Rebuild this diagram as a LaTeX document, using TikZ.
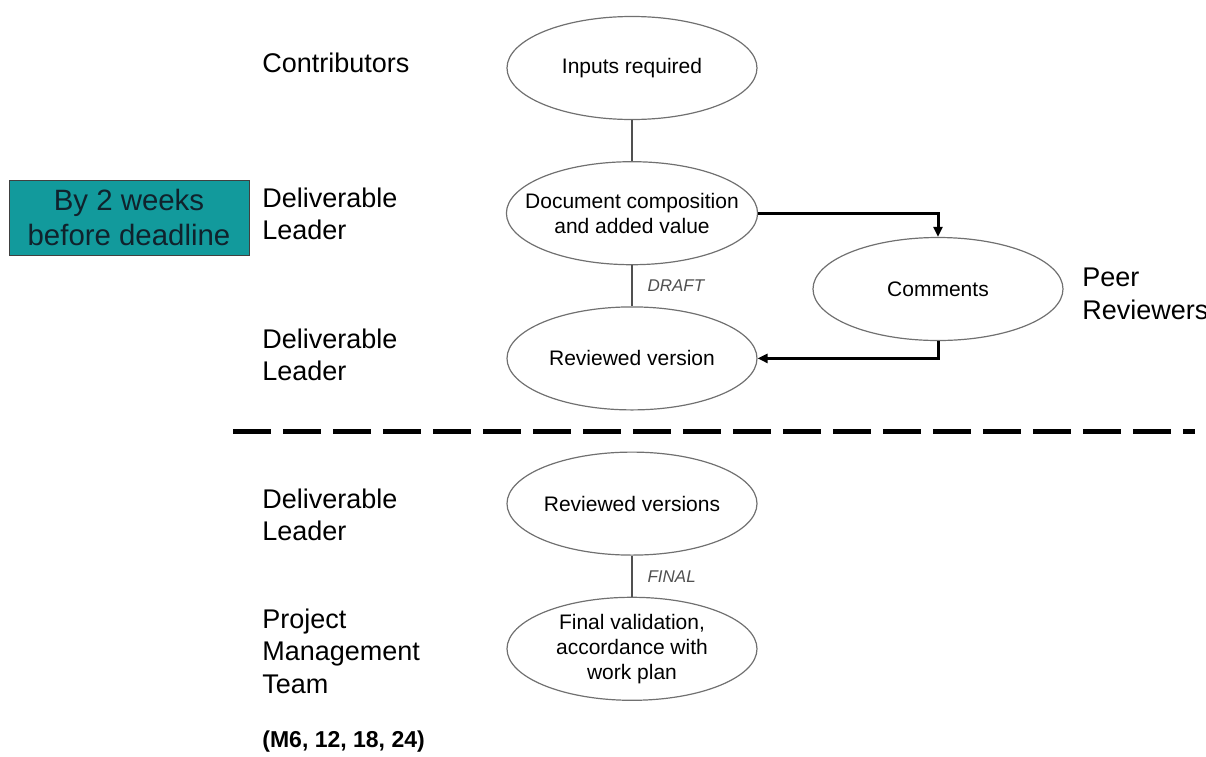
\documentclass[tikz,border=0pt]{standalone}
\usepackage{fontspec}
\setmainfont{Liberation Sans}
\usepackage{xcolor}
\usetikzlibrary{arrows.meta,positioning,shapes.geometric}
\definecolor{tealbox}{HTML}{129A9C}
\definecolor{tealtext}{HTML}{10222C}
\definecolor{rimgray}{HTML}{707070}
\definecolor{taggray}{HTML}{505050}

\begin{document}
\begin{tikzpicture}[
        x=0.5pt, y=-0.5pt,
        node distance=20.5pt,
        stage/.style={
          ellipse,
          draw=rimgray,
          line width=0.6pt,
          align=center,
          inner xsep=-9pt,
          inner ysep=-2pt,
          minimum width=125pt,
          minimum height=51.5pt,
          font=\fontsize{10.5}{12.5}\selectfont
        },
        role/.style={anchor=west, align=left, inner sep=0pt,
          font=\fontsize{13.5}{16.3}\selectfont},
        tag/.style={font=\fontsize{8.5}{10}\selectfont\itshape, text=taggray, inner sep=0pt},
        link/.style={draw=taggray, line width=0.6pt},
        flow/.style={-{Triangle[length=5pt,width=4.5pt]}, line width=1.5pt},
        divider/.style={line width=2.5pt, dash pattern=on 19pt off 6pt}
      ]
        \useasboundingbox (0,0) rectangle (1206,756);

        % stages of the review
        \node[stage] (inputs) at (632,68) {Inputs required};
        \node[stage, below=of inputs] (compose) {Document composition\\and added value};
        \node[stage, below=of compose] (reviewed) {Reviewed version};
        \node[stage, below=of reviewed] (versions) {Reviewed versions};
        \node[stage, below=of versions] (validate) {Final validation,\\accordance with\\work plan};
        \node[stage] (comments) at (938,289) {Comments};

        % who does what
        \node[role] (contrib) at (262,63) {Contributors};
        \node[role] (lead1) at (262,214) {Deliverable\\Leader};
        \node[role] (lead2) at (262,355) {Deliverable\\Leader};
        \node[role] (lead3) at (262,515) {Deliverable\\Leader};
        \node[role] (pmt) at (262,651) {Project\\Management\\Team};
        \node[role] (peers) at (1082,294) {Peer\\Reviewers};
        \node[role, font=\fontsize{11.5}{14}\selectfont\bfseries] (months) at (262,742) {(M6, 12, 18, 24)};

        \node[draw=black!75, fill=tealbox, text=tealtext, align=center,
          minimum width=120pt, minimum height=37.5pt, inner sep=0pt,
          font=\fontsize{14.7}{17.5}\selectfont] (deadline) at (129,217.5)
          {By 2 weeks\\before deadline};

        \draw[link] (inputs) -- (compose);
        \draw[link] (compose) -- node[tag, right=7.5pt] {DRAFT} (reviewed);
        \draw[link] (versions) -- node[tag, right=7.5pt] {FINAL} (validate);

        \draw[flow] (compose.east) -| (comments.north);
        \draw[flow] (comments.south) |- (reviewed.east);

        \draw[divider] (233,431) -- (1195,431);
      \end{tikzpicture}
\end{document}
